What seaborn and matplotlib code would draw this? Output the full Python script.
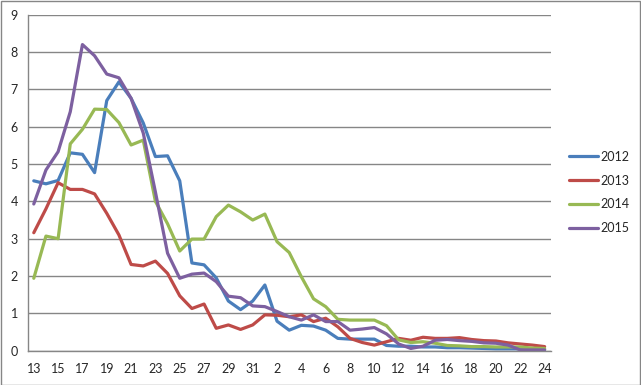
import matplotlib
matplotlib.use("Agg")
import matplotlib.pyplot as plt
import seaborn as sns
import pandas as pd
import numpy as np
from matplotlib.patches import Rectangle
from matplotlib.lines import Line2D

weeks = [str(w) for w in range(13, 32)] + [str(w) for w in range(1, 25)]

y2012 = [4.55, 4.47, 4.56, 5.3, 5.26, 4.77, 6.7, 7.2, 6.76, 6.1, 5.2, 5.22, 4.55, 2.35, 2.3, 1.95, 1.33, 1.1, 1.33, 1.76,
         0.79, 0.55, 0.68, 0.66, 0.55, 0.33, 0.31, 0.31, 0.31, 0.14, 0.12, 0.12, 0.1, 0.1, 0.08, 0.08, 0.07, 0.06, 0.05,
         0.05, 0.05, 0.03, 0.03]
y2013 = [3.16, 3.8, 4.5, 4.32, 4.32, 4.2, 3.68, 3.1, 2.31, 2.27, 2.4, 2.07, 1.47, 1.13, 1.25, 0.6, 0.69, 0.57, 0.69, 0.96,
         0.95, 0.91, 0.96, 0.78, 0.87, 0.64, 0.33, 0.22, 0.15, 0.24, 0.33, 0.28, 0.36, 0.33, 0.33, 0.35, 0.3, 0.27, 0.26,
         0.21, 0.18, 0.15, 0.11]
y2014 = [1.94, 3.07, 3.0, 5.54, 5.93, 6.47, 6.46, 6.11, 5.51, 5.64, 4.0, 3.4, 2.67, 2.99, 2.99, 3.59, 3.9, 3.72, 3.5, 3.66,
         2.92, 2.63, 1.98, 1.39, 1.18, 0.84, 0.82, 0.82, 0.82, 0.67, 0.29, 0.22, 0.24, 0.2, 0.14, 0.13, 0.11, 0.11, 0.1,
         0.1, 0.1, 0.07, 0.06]
y2015 = [3.93, 4.84, 5.33, 6.4, 8.2, 7.9, 7.41, 7.31, 6.76, 5.83, 4.25, 2.61, 1.94, 2.05, 2.08, 1.85, 1.46, 1.42, 1.2, 1.18,
         1.05, 0.91, 0.82, 0.96, 0.78, 0.78, 0.55, 0.58, 0.62, 0.45, 0.18, 0.06, 0.12, 0.28, 0.3, 0.27, 0.25, 0.21, 0.2,
         0.15, 0.02, 0.02, 0.02]
years = ["2012", "2013", "2014", "2015"]
colors = ["#4A7EBB", "#BE4B48", "#98B954", "#7D60A0"]

series = [y2012, y2013, y2014, y2015]
rows = []
for yr, vals in zip(years, series):
    for i, v in enumerate(vals):
        rows.append({"pos": i, "week": weeks[i], "value": v, "year": yr})
df = pd.DataFrame(rows)

sns.set_style("white")
plt.rcParams["font.family"] = ["Lato", "DejaVu Sans"]

W, H = 641, 385
fig = plt.figure(figsize=(W / 100, H / 100), dpi=100)
ax = fig.add_axes([27.7 / W, 1 - 350.7 / H, (550.7 - 27.7) / W, (350.7 - 14.7) / H])

lw = 2.3
sns.lineplot(data=df, x="pos", y="value", hue="year", palette=colors, linewidth=lw,
             ax=ax, legend=False, sort=False)

grid_c = "#868686"
n = len(weeks)
ax.set_xlim(-0.5, n - 0.5)
ax.set_ylim(0, 9)
ax.set_yticks(range(0, 10))
ax.set_yticklabels([str(v) for v in range(0, 10)], fontsize=9)
ax.yaxis.grid(True, color=grid_c, linewidth=1.0)
ax.set_axisbelow(True)

ax.set_xticks(range(0, n, 2))
ax.set_xticklabels(weeks[::2], fontsize=9)
ax.set_xticks(np.arange(-0.5, n, 1.0), minor=True)
ax.tick_params(axis="x", which="major", length=0, pad=9)
ax.tick_params(axis="x", which="minor", length=4, color=grid_c, width=1, direction="out")
ax.tick_params(axis="y", which="major", length=4, color=grid_c, width=1, direction="out", pad=3)
ax.set_xlabel("")
ax.set_ylabel("")

for s in ["top", "right"]:
    ax.spines[s].set_visible(False)
for s in ["left", "bottom"]:
    ax.spines[s].set_color(grid_c)
    ax.spines[s].set_linewidth(1.0)

handles = [Line2D([0], [0], color=c, linewidth=lw) for c in colors]
fig.legend(handles, years, loc="center left", bbox_to_anchor=(569 / W, 1 - 192.5 / H),
           frameon=False, fontsize=9, handlelength=2.3, handletextpad=0.25,
           labelspacing=0.95, borderpad=0, borderaxespad=0)

fig.patches.append(Rectangle((0.5 / W, 0.5 / H), (W - 1.5) / W, (H - 1.5) / H, transform=fig.transFigure,
                             fill=False, edgecolor=grid_c, linewidth=1.0))

fig.savefig("out.png", dpi=100)
